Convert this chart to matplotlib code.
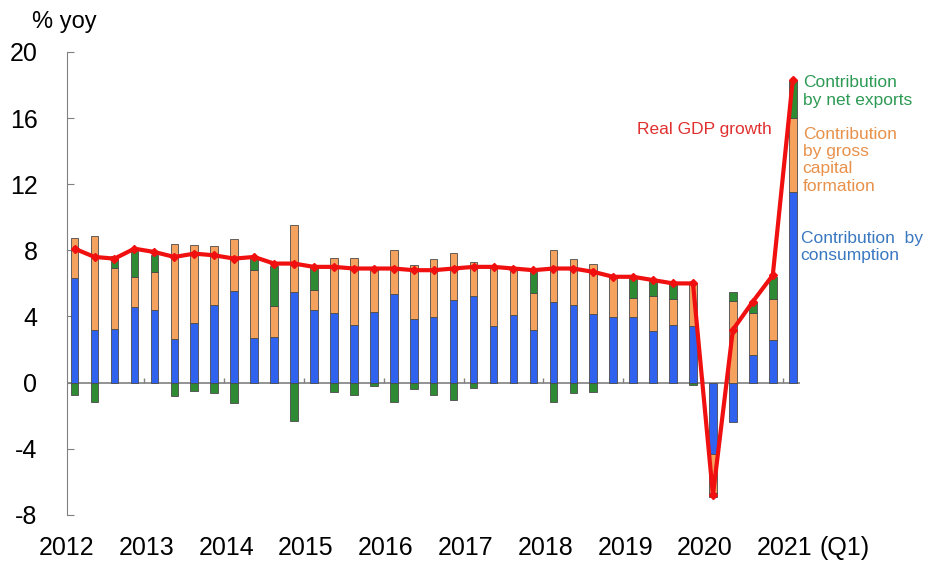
import numpy as np
import matplotlib.pyplot as plt

plt.rcParams['font.family'] = ['Liberation Sans', 'DejaVu Sans']
plt.rcParams['axes.unicode_minus'] = False

# quarterly contributions to real GDP growth, 2012Q1 - 2021Q1 (% yoy)
consumption = [6.34, 3.20, 3.27, 4.60, 4.38, 2.64, 3.62, 4.71, 5.56, 2.72, 2.75, 5.47,
               4.42, 4.20, 3.49, 4.29, 5.36, 3.86, 3.97, 4.99, 5.25, 3.42, 4.10, 3.16,
               4.88, 4.71, 4.16, 3.97, 3.99, 3.12, 3.49, 3.42, -4.34, -2.37, 1.66, 2.57, 11.5]
capital = [2.40, 5.64, 3.66, 1.78, 2.31, 5.75, 4.72, 3.55, 3.15, 4.10, 1.89, 4.05,
           1.18, 3.32, 4.07, 2.57, 2.66, 3.24, 3.52, 2.85, 2.03, 3.57, 2.76, 2.29,
           3.16, 2.78, 2.99, 2.43, 1.13, 2.13, 1.59, 2.57, -2.35, 4.95, 2.54, 2.46, 4.5]
net_exports = [-0.74, -1.18, 0.72, 1.70, 1.04, -0.83, -0.48, -0.65, -1.24, 0.78, 2.40, -2.29,
               1.40, -0.59, -0.76, -0.22, -1.15, -0.39, -0.76, -1.02, -0.33, 0.0, 0.0, 1.22,
               -1.20, -0.63, -0.54, 0.0, 1.22, 0.87, 0.87, -0.15, -0.20, 0.52, 0.66, 1.35, 2.3]
gdp = [8.1, 7.6, 7.5, 8.1, 7.9, 7.6, 7.8, 7.7, 7.5, 7.6, 7.2, 7.2,
       7.0, 7.0, 6.9, 6.9, 6.9, 6.8, 6.8, 6.9, 7.0, 7.0, 6.9, 6.8,
       6.9, 6.9, 6.7, 6.4, 6.4, 6.2, 6.0, 6.0, -6.8, 3.2, 4.9, 6.5, 18.3]
years = ['2012', '2013', '2014', '2015', '2016', '2017', '2018', '2019', '2020', '2021']

x = np.arange(len(gdp))
year_pos = x[::4]

fig = plt.figure(figsize=(9.25, 5.64), dpi=100)
ax = fig.add_axes([0.072, 0.087, 0.793, 0.821])

pos_base = np.zeros(len(x))
neg_base = np.zeros(len(x))
for vals, col in [(consumption, '#2F62EE'), (capital, '#F5A25E'), (net_exports, '#2E8B34')]:
    vals = np.array(vals)
    bottom = np.where(vals >= 0, pos_base, neg_base)
    ax.bar(x, vals, width=0.38, bottom=bottom, color=col, edgecolor='#4a4a4a', linewidth=0.6, zorder=2)
    pos_base = pos_base + np.clip(vals, 0, None)
    neg_base = neg_base + np.clip(vals, None, 0)

ax.axhline(0, color='#808080', linewidth=1.2, zorder=1)
# small year separators on the zero line
ax.vlines(year_pos[1:] - 0.5, 0, 0.3, color='#808080', linewidth=1, zorder=1)

ax.plot(x, gdp, color='#F01010', linewidth=3, marker='D', markersize=4, zorder=3)

ax.set_xlim(-0.3, 36.37)
ax.set_ylim(-8, 20)
ax.set_yticks(np.arange(-8, 21, 4))
ax.tick_params(axis='y', direction='in', length=5, pad=21, labelsize=18, color='#808080')
ax.set_xticks(year_pos - 0.4)
ax.set_xticklabels(years)
ax.tick_params(axis='x', length=0, pad=15, labelsize=18)
for s in ['top', 'right', 'bottom']:
    ax.spines[s].set_visible(False)
ax.spines['left'].set_color('#808080')

fig.text(0.035, 0.961, '% yoy', fontsize=17, va='center')
fig.text(0.886, 0.028, '(Q1)', fontsize=18, va='center')

ax.text(36.5, 17.6, 'Contribution\nby net exports', color='#2E9A55', fontsize=12.5, va='center', clip_on=False)
ax.text(36.5, 13.45, 'Contribution\nby gross\ncapital\nformation', color='#E8914A', fontsize=12.5, va='center', clip_on=False)
ax.text(36.4, 8.2, 'Contribution  by\nconsumption', color='#3A78C0', fontsize=12.5, va='center', clip_on=False)
ax.text(34.95, 15.3, 'Real GDP growth', color='#E03030', fontsize=12.5, ha='right', va='center')

plt.savefig('out.png', dpi=100)
